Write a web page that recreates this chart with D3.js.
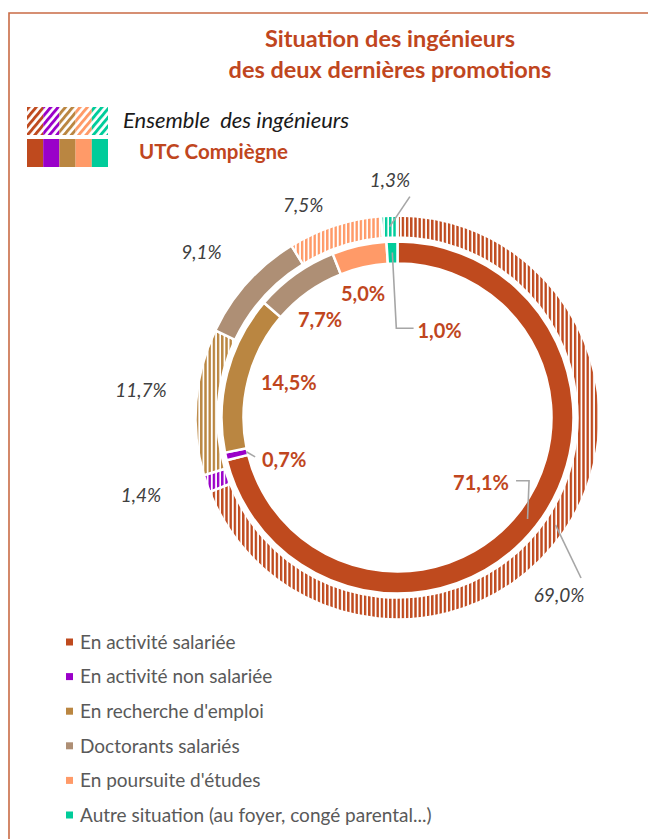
<!DOCTYPE html>
<html>
<head>
<meta charset="utf-8">
<script src="https://cdnjs.cloudflare.com/ajax/libs/d3/7.8.5/d3.min.js"></script>
<style>
  body { margin: 0; background: #fff; }
  svg { display: block; font-family: Lato, "Open Sans", sans-serif; }
</style>
</head>
<body>
<div id="chart"></div>
<script>
// data
const categories = [
  "En activité salariée",
  "En activité non salariée",
  "En recherche d'emploi",
  "Doctorants salariés",
  "En poursuite d'études",
  "Autre situation (au foyer, congé parental...)"
]
const ensembleValues = [69.0, 1.4, 11.7, 9.1, 7.5, 1.3]
const utcValues = [71.1, 0.7, 14.5, 7.7, 5.0, 1.0]
const colors = ["#BF4A1E", "#9A00C9", "#BA8641", "#AE8F75", "#FF9A68", "#00CC9A"]
const outerHatched = [true, true, true, false, true, true]
const legendSwatchIdx = [0, 1, 2, 4, 5]
const titleLines = ["Situation des ingénieurs", "des deux dernières promotions"]

const W = 648, H = 839
const CX = 397.5, CY = 417.5
const RUST = "#C0461E"

const svg = d3.select("#chart").append("svg")
  .attr("width", W)
  .attr("height", H)

const defs = svg.append("defs")

// vertical stripes for the outer ring, diagonal ones for the legend
colors.forEach((c, i) => {
  const p = defs.append("pattern")
    .attr("id", "vhatch" + i)
    .attr("patternUnits", "userSpaceOnUse")
    .attr("width", 4.2).attr("height", 10)
  p.append("rect").attr("width", 4.2).attr("height", 10).attr("fill", "#fff")
  p.append("rect").attr("width", 2.4).attr("height", 10).attr("fill", c)

  const q = defs.append("pattern")
    .attr("id", "dhatch" + i)
    .attr("patternUnits", "userSpaceOnUse")
    .attr("width", 5.6).attr("height", 10)
    .attr("patternTransform", "rotate(40)")
  q.append("rect").attr("width", 5.6).attr("height", 10).attr("fill", "#fff")
  q.append("rect").attr("width", 2.9).attr("height", 10).attr("fill", c)
})

// frame (top and left edges visible)
svg.append("path")
  .attr("d", `M9,${H} V13 H${W}`)
  .attr("fill", "none")
  .attr("stroke", "#C96B45")
  .attr("stroke-width", 1.6)

// title
svg.append("g").selectAll("text")
  .data(titleLines)
  .enter().append("text")
    .attr("x", 390)
    .attr("y", (d, i) => 47 + i * 31)
    .attr("text-anchor", "middle")
    .attr("font-size", "23.5px")
    .attr("font-weight", "bold")
    .attr("fill", RUST)
    .text(d => d)

// top legend : hatched vs solid
const sw = d3.scaleBand().domain(legendSwatchIdx).range([27, 108])
const topLeg = svg.append("g")
topLeg.selectAll(".hsw")
  .data(legendSwatchIdx)
  .enter().append("rect")
    .attr("x", d => sw(d))
    .attr("y", 107)
    .attr("width", sw.bandwidth())
    .attr("height", 28)
    .attr("fill", d => `url(#dhatch${d})`)
topLeg.selectAll(".ssw")
  .data(legendSwatchIdx)
  .enter().append("rect")
    .attr("x", d => sw(d))
    .attr("y", 139)
    .attr("width", sw.bandwidth())
    .attr("height", 28)
    .attr("fill", d => colors[d])
topLeg.append("text")
  .attr("x", 123).attr("y", 128)
  .attr("font-size", "22px")
  .attr("font-style", "italic")
  .attr("fill", "#1a1a1a")
  .style("white-space", "pre")
  .text("Ensemble  des ingénieurs")
topLeg.append("text")
  .attr("x", 139).attr("y", 159)
  .attr("font-size", "20.5px")
  .attr("font-weight", "bold")
  .attr("fill", RUST)
  .text("UTC Compiègne")

// rings
const pie = d3.pie().sort(null).value(d => d)
const innerArc = d3.arc().innerRadius(154).outerRadius(176)
const outerArc = d3.arc().innerRadius(180).outerRadius(202)

const g = svg.append("g").attr("transform", `translate(${CX},${CY})`)

const outerData = pie(ensembleValues)
const innerData = pie(utcValues)

g.selectAll(".outer")
  .data(outerData)
  .enter().append("path")
    .attr("class", "outer")
    .attr("d", outerArc)
    .attr("fill", (d, i) => outerHatched[i] ? `url(#vhatch${i})` : colors[i])
    .attr("stroke", "#fff")
    .attr("stroke-width", 2.5)

g.selectAll(".inner")
  .data(innerData)
  .enter().append("path")
    .attr("class", "inner")
    .attr("d", innerArc)
    .attr("fill", (d, i) => colors[i])
    .attr("stroke", "#fff")
    .attr("stroke-width", 2.5)

const fmt = v => d3.format(".1f")(v).replace(".", ",") + "%"
const rad = a => a * Math.PI / 180
const polar = (angleRad, r) => [r * Math.sin(angleRad), -r * Math.cos(angleRad)]
const midA = d => (d.startAngle + d.endAngle) / 2

// label layout: [angle shift in degrees from slice middle, radius]
const outerLayout = [[13.5, 240], [2.3, 268], [1.5, 258], [-1.9, 256], [-5.8, 232], [0.5, 237]]
const innerLayout = [[0, 106], [-7.7, 121], [3, 114], [-3, 124.5], [-3, 128], [-332.2, 96]]

const outerPos = outerData.map((d, i) => polar(midA(d) + rad(outerLayout[i][0]), outerLayout[i][1]))
const innerPos = innerData.map((d, i) => polar(midA(d) + rad(innerLayout[i][0]), innerLayout[i][1]))

// leader lines
const lineGen = d3.line()
const leaders = [
  // 69,0%
  [polar(midA(outerData[0]), 191), [outerPos[0][0] + 22, outerPos[0][1] - 17]],
  // 1,3%
  [polar(midA(outerData[5]), 191), [outerPos[5][0] + 20, outerPos[5][1] + 16]],
  // 71,1%
  [polar(midA(innerData[0]), 165),
   [polar(midA(innerData[0]), 165)[0] + 1.5, innerPos[0][1] - 2],
   [innerPos[0][0] + 35, innerPos[0][1] - 2]],
  // 1,0%
  [polar(midA(innerData[5]), 165),
   [polar(midA(innerData[5]), 165)[0] + 4, innerPos[5][1] - 3],
   [innerPos[5][0] - 26, innerPos[5][1] - 3]],
  // 0,7%
  [polar(midA(innerData[1]), 155), [innerPos[1][0] - 29, innerPos[1][1] - 3]]
]
g.selectAll(".leader")
  .data(leaders)
  .enter().append("path")
    .attr("class", "leader")
    .attr("d", lineGen)
    .attr("fill", "none")
    .attr("stroke", "#A6A6A6")
    .attr("stroke-width", 1.6)

g.selectAll(".olab")
  .data(ensembleValues)
  .enter().append("text")
    .attr("class", "olab")
    .attr("x", (d, i) => outerPos[i][0])
    .attr("y", (d, i) => outerPos[i][1])
    .attr("dy", "0.35em")
    .attr("text-anchor", "middle")
    .attr("font-size", "19px")
    .attr("font-style", "italic")
    .attr("fill", "#404040")
    .text(fmt)

g.selectAll(".ilab")
  .data(utcValues)
  .enter().append("text")
    .attr("class", "ilab")
    .attr("x", (d, i) => innerPos[i][0])
    .attr("y", (d, i) => innerPos[i][1])
    .attr("dy", "0.35em")
    .attr("text-anchor", "middle")
    .attr("font-size", "20px")
    .attr("font-weight", "bold")
    .attr("fill", RUST)
    .text(fmt)

// bottom legend
const ly = d3.scalePoint().domain(d3.range(categories.length)).range([642, 815])
const leg = svg.append("g")
const rows = leg.selectAll(".row")
  .data(categories)
  .enter().append("g")
    .attr("transform", (d, i) => `translate(0,${ly(i)})`)
rows.append("rect")
  .attr("x", 66).attr("y", -3.5)
  .attr("width", 7).attr("height", 7)
  .attr("fill", (d, i) => colors[i])
rows.append("text")
  .attr("x", 80)
  .attr("dy", "0.36em")
  .attr("font-size", "19px")
  .attr("fill", "#595959")
  .text(d => d)
</script>
</body>
</html>
